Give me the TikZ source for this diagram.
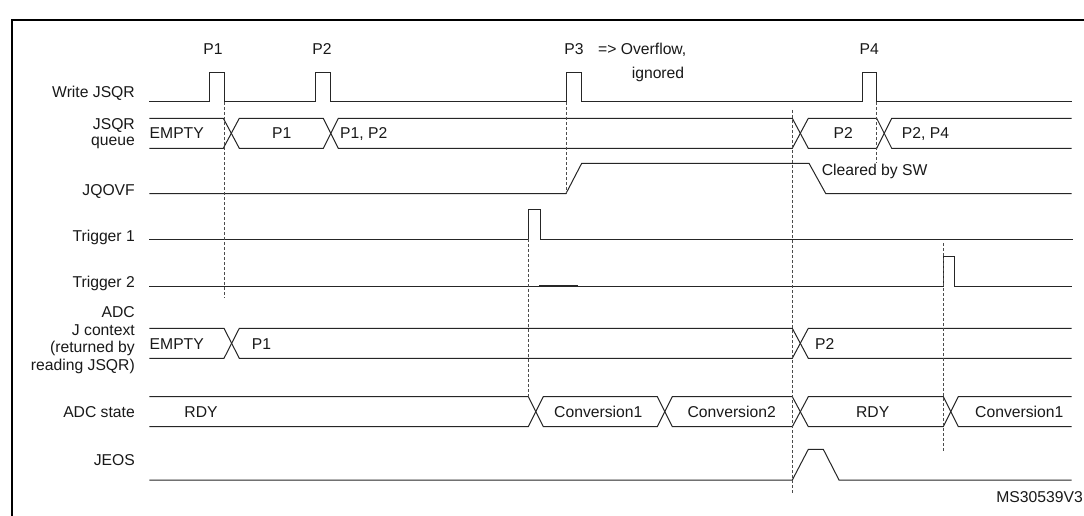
\documentclass[tikz,border=0pt]{standalone}
\usepackage{fontspec}
\setmainfont{Liberation Sans}
\begin{document}
\begin{tikzpicture}[x=1pt,y=-1pt,
  sig/.style={draw=black!85,line width=1pt,line join=miter},
  guide/.style={draw=black!70,line width=0.8pt,dash pattern=on 3pt off 2pt},
  txt/.style={font=\fontsize{15.7}{18}\selectfont,inner sep=0pt,text=black!90},
  lab/.style={txt,anchor=base east},
  lft/.style={txt,anchor=base west},
  mid/.style={txt,anchor=base}]
\useasboundingbox (0,0) rectangle (1084,516);
\fill[white] (0,0) rectangle (1084,516);
% frame
\draw[line width=2.5pt] (12,530) -- (12,20) -- (1090,20);

% signal names
\node[lab] (nWrite) at (135,98) {Write JSQR};
\node[lab] (nQa) at (135,129.5) {JSQR};
\node[lab] (nQb) at (135,146) {queue};
\node[lab] (nOvf) at (135,195.5) {JQOVF};
\node[lab] (nT1) at (135,241) {Trigger 1};
\node[lab] (nT2) at (135,287.5) {Trigger 2};
\node[lab] (nJa) at (135,317.5) {ADC};
\node[lab] (nJb) at (135,335) {J context};
\node[lab] (nJc) at (135,352.5) {(returned by};
\node[lab] (nJd) at (135,370) {reading JSQR)};
\node[lab] (nState) at (135,417.5) {ADC state};
\node[lab] (nJeos) at (135,465.5) {JEOS};

% write labels
\node[mid] (p1) at (213,54.5) {P1};
\node[mid] (p2) at (322,54.5) {P2};
\node[mid] (p3) at (574,54.5) {P3};
\node[lft] (ovf) at (598,54.5) {=> Overflow,};
\node[mid] (ign) at (658,79) {ignored};
\node[mid] (p4) at (869.3,54.5) {P4};

% Write JSQR
\draw[sig] (149.3,102)--(209.3,102)--(209.3,73)--(224.7,73)--(224.7,102)
  --(315.3,102)--(315.3,73)--(330.7,73)--(330.7,102)
  --(566,102)--(566,73)--(581.3,73)--(581.3,102)
  --(862.3,102)--(862.3,73)--(876.3,73)--(876.3,102)--(1071.7,102);

% JSQR queue bus
\draw[sig] (149.3,118.3)--(223.3,118.3)--(239.3,148.3)--(323.3,148.3)--(338.3,118.3)
  --(792.3,118.3)--(808.3,148.3)--(876.7,148.3)--(891.7,118.3)--(1071.7,118.3);
\draw[sig] (149.3,148.3)--(223.3,148.3)--(239.3,118.3)--(323.3,118.3)--(338.3,148.3)
  --(792.3,148.3)--(808.3,118.3)--(876.7,118.3)--(891.7,148.3)--(1071.7,148.3);
\node[lft] (qEmpty) at (149.5,139) {EMPTY};
\node[mid] (qP1) at (281.7,139) {P1};
\node[lft] (qP12) at (340,139) {P1, P2};
\node[mid] (qP2) at (843.3,139) {P2};
\node[lft] (qP24) at (901.7,139) {P2, P4};

% JQOVF
\draw[sig] (149.3,193.5)--(566,193.5)--(581.7,163.3)--(809,163.3)--(825.7,193.5)--(1071.7,193.5);
\node[lft] (clr) at (821.7,175.6) {Cleared by SW};

% Trigger 1
\draw[sig] (149.3,239.3)--(528.3,239.3)--(528.3,209.3)--(540,209.3)--(540,239.3)--(1073,239.3);
% Trigger 2
\draw[sig] (149.3,286)--(943.3,286)--(943.3,256)--(954.3,256)--(954.3,286)--(1071.7,286);
\draw[draw=black!85,line width=1.4pt] (539,286)--(578,286);

% ADC J context bus
\draw[sig] (149.3,328.3)--(224,328.3)--(239.3,358.3)--(792.3,358.3)--(808.3,328.3)--(1071.7,328.3);
\draw[sig] (149.3,358.3)--(224,358.3)--(239.3,328.3)--(792.3,328.3)--(808.3,358.3)--(1071.7,358.3);
\node[lft] (jEmpty) at (149.5,349) {EMPTY};
\node[lft] (jP1) at (251.7,349) {P1};
\node[lft] (jP2) at (815,349) {P2};

% ADC state bus
\draw[sig] (149.3,396.7)--(528.3,396.7)--(543.3,426.7)--(657.3,426.7)--(672.3,396.7)
  --(792.3,396.7)--(808.3,426.7)--(943.3,426.7)--(958.3,396.7)--(1071.7,396.7);
\draw[sig] (149.3,426.7)--(528.3,426.7)--(543.3,396.7)--(657.3,396.7)--(672.3,426.7)
  --(792.3,426.7)--(808.3,396.7)--(943.3,396.7)--(958.3,426.7)--(1071.7,426.7);
\node[mid] (sRdy1) at (201,417.3) {RDY};
\node[mid] (sC1) at (598.3,417.3) {Conversion1};
\node[mid] (sC2) at (731.7,417.3) {Conversion2};
\node[mid] (sRdy2) at (872.7,417.3) {RDY};
\node[mid] (sC3) at (1019.3,417.3) {Conversion1};

% JEOS
\draw[sig] (149.3,480)--(792.3,480)--(808.3,449.3)--(823.3,449.3)--(839,480)--(1071.7,480);

% guides
\draw[guide] (224,102)--(224,298);
\draw[guide] (566,102)--(566,193.5);
\draw[guide] (528.3,239.3)--(528.3,396.7);
\draw[guide] (792.3,110)--(792.3,493.3);
\draw[guide] (876.3,102)--(876.3,163.3);
\draw[guide] (943.3,243.3)--(943.3,451.7);

\node[txt,anchor=base east] (ms) at (1083,502.5) {MS30539V3};
\end{tikzpicture}
\end{document}
